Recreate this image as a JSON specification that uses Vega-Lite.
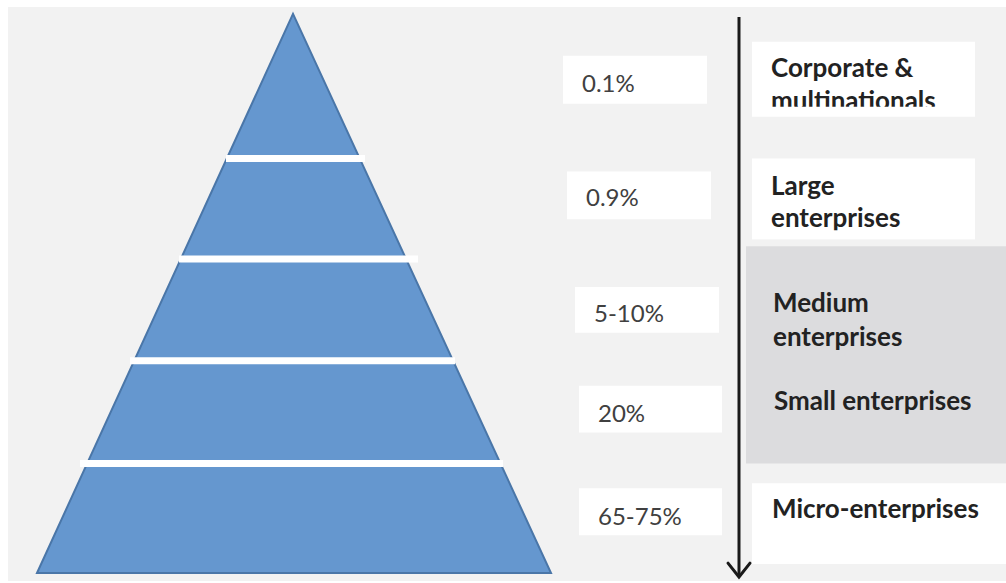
{
  "$schema": "https://vega.github.io/schema/vega-lite/v6.json",
  "width": 1006,
  "height": 583,
  "autosize": {"type": "fit", "contains": "padding"},
  "padding": 0,
  "background": "#ffffff",
  "config": {"view": {"stroke": null}},
  "layer": [
    {
      "data": {"values": [
        {"name": "background", "x1": 8, "x2": 1006, "y1": 7, "y2": 583, "fill": "#f2f2f2"},
        {"name": "box 0.1%", "x1": 563, "x2": 707, "y1": 56, "y2": 104, "fill": "#ffffff"},
        {"name": "box 0.9%", "x1": 567, "x2": 711, "y1": 172, "y2": 220, "fill": "#ffffff"},
        {"name": "box 5-10%", "x1": 575, "x2": 719, "y1": 288, "y2": 334, "fill": "#ffffff"},
        {"name": "box 20%", "x1": 579, "x2": 722, "y1": 387, "y2": 434, "fill": "#ffffff"},
        {"name": "box 65-75%", "x1": 579, "x2": 722, "y1": 490, "y2": 537, "fill": "#ffffff"},
        {"name": "box corporate", "x1": 752, "x2": 975, "y1": 42, "y2": 117, "fill": "#ffffff"},
        {"name": "box large", "x1": 752, "x2": 975, "y1": 159, "y2": 240, "fill": "#ffffff"},
        {"name": "box medium-small", "x1": 746, "x2": 1006, "y1": 247, "y2": 465, "fill": "#dcdcde"},
        {"name": "box micro", "x1": 752, "x2": 1006, "y1": 485, "y2": 566, "fill": "#ffffff"}
      ]},
      "mark": {"type": "rect"},
      "encoding": {
        "x": {"field": "x1", "type": "quantitative", "scale": {"domain": [0, 1006], "nice": false, "zero": false}, "axis": null},
        "x2": {"field": "x2"},
        "y": {"field": "y1", "type": "quantitative", "scale": {"domain": [0, 583], "nice": false, "zero": false, "reverse": true}, "axis": null},
        "y2": {"field": "y2"},
        "color": {"field": "fill", "type": "nominal", "scale": null, "legend": null}
      }
    },
    {
      "data": {"values": [
        {"x": 37, "y": 575, "base": 575},
        {"x": 293, "y": 14, "base": 575},
        {"x": 551, "y": 575, "base": 575}
      ]},
      "mark": {"type": "area", "color": "#6597cf", "stroke": "#4a76a8", "strokeWidth": 2, "interpolate": "linear"},
      "encoding": {
        "x": {"field": "x", "type": "quantitative"},
        "y": {"field": "y", "type": "quantitative"},
        "y2": {"field": "base"}
      }
    },
    {
      "data": {"values": [
        {"x1": 226, "x2": 365, "y": 159},
        {"x1": 179, "x2": 418, "y": 260},
        {"x1": 130, "x2": 455, "y": 362},
        {"x1": 80, "x2": 503, "y": 465}
      ]},
      "mark": {"type": "rule", "color": "#ffffff", "strokeWidth": 7},
      "encoding": {
        "x": {"field": "x1", "type": "quantitative"},
        "x2": {"field": "x2"},
        "y": {"field": "y", "type": "quantitative"}
      }
    },
    {
      "data": {"values": [
        {"x": 582, "y": 92, "label": "0.1%"},
        {"x": 586, "y": 207, "label": "0.9%"},
        {"x": 594, "y": 323, "label": "5-10%"},
        {"x": 598, "y": 423, "label": "20%"},
        {"x": 598, "y": 527, "label": "65-75%"}
      ]},
      "mark": {"type": "text", "align": "left", "baseline": "alphabetic", "font": "Lato", "fontSize": 24, "color": "#404040"},
      "encoding": {
        "x": {"field": "x", "type": "quantitative"},
        "y": {"field": "y", "type": "quantitative"},
        "text": {"field": "label"}
      }
    },
    {
      "data": {"values": [
        {"x": 771, "y": 77, "label": "Corporate &"},
        {"x": 771, "y": 110, "label": "multinationals"},
        {"x": 771, "y": 196, "label": "Large"},
        {"x": 771, "y": 228, "label": "enterprises"},
        {"x": 773, "y": 313, "label": "Medium"},
        {"x": 773, "y": 347, "label": "enterprises"},
        {"x": 774, "y": 411, "label": "Small enterprises"},
        {"x": 772, "y": 520, "label": "Micro-enterprises"}
      ]},
      "mark": {"type": "text", "align": "left", "baseline": "alphabetic", "font": "Lato", "fontSize": 26, "fontWeight": "bold", "color": "#222222"},
      "encoding": {
        "x": {"field": "x", "type": "quantitative"},
        "y": {"field": "y", "type": "quantitative"},
        "text": {"field": "label"}
      }
    },
    {
      "data": {"values": [
        {"x1": 752, "x2": 975, "y1": 107, "y2": 117},
        {"x1": 752, "x2": 975, "y1": 231, "y2": 240}
      ]},
      "mark": {"type": "rect", "color": "#ffffff"},
      "encoding": {
        "x": {"field": "x1", "type": "quantitative"},
        "x2": {"field": "x2"},
        "y": {"field": "y1", "type": "quantitative"},
        "y2": {"field": "y2"}
      }
    },
    {
      "data": {"values": [{"x": 739, "y1": 17, "y2": 578}]},
      "mark": {"type": "rule", "color": "#1a1a1a", "strokeWidth": 3},
      "encoding": {
        "x": {"field": "x", "type": "quantitative"},
        "y": {"field": "y1", "type": "quantitative"},
        "y2": {"field": "y2"}
      }
    },
    {
      "data": {"values": [
        {"order": 1, "x": 728, "y": 565},
        {"order": 2, "x": 739, "y": 579},
        {"order": 3, "x": 750, "y": 565}
      ]},
      "mark": {"type": "line", "color": "#1a1a1a", "strokeWidth": 3, "strokeCap": "round", "strokeJoin": "miter"},
      "encoding": {
        "x": {"field": "x", "type": "quantitative"},
        "y": {"field": "y", "type": "quantitative"},
        "order": {"field": "order"}
      }
    }
  ]
}
